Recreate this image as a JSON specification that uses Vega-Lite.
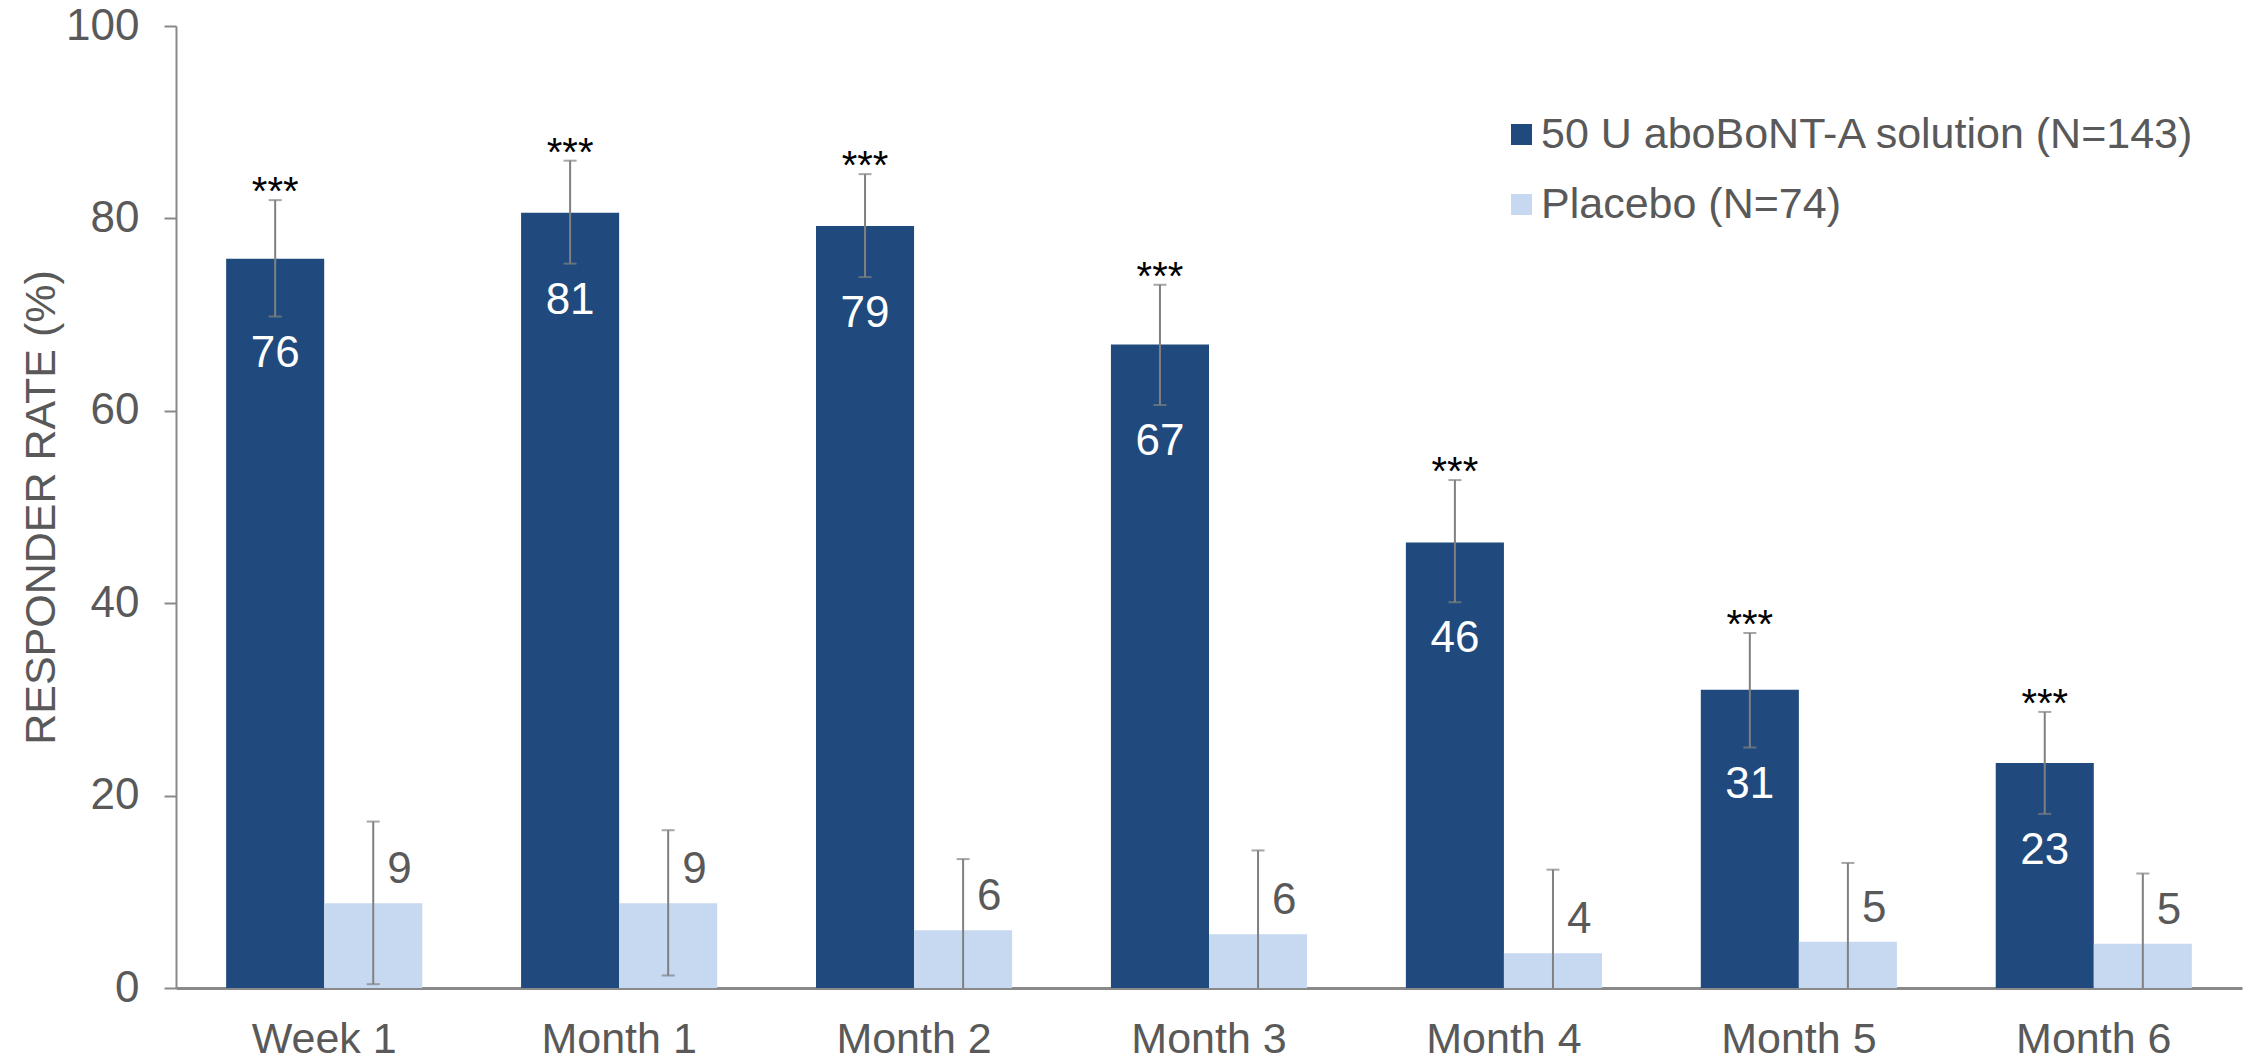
{
  "$schema": "https://vega.github.io/schema/vega-lite/v6.json",
  "width": 2066,
  "height": 962,
  "autosize": {"type": "none"},
  "padding": {"left": 176, "top": 26, "right": 8, "bottom": 73},
  "background": "white",
  "config": {"font": "Liberation Sans", "view": {"stroke": null}},
  "data": {
    "values": [
      {"timepoint": "Week 1", "group": "50 U aboBoNT-A solution (N=143)", "value": 75.8, "lower": 69.8, "upper": 81.9},
      {"timepoint": "Week 1", "group": "Placebo (N=74)", "value": 8.8, "lower": 0.4, "upper": 17.3},
      {"timepoint": "Month 1", "group": "50 U aboBoNT-A solution (N=143)", "value": 80.6, "lower": 75.3, "upper": 86.0},
      {"timepoint": "Month 1", "group": "Placebo (N=74)", "value": 8.8, "lower": 1.3, "upper": 16.4},
      {"timepoint": "Month 2", "group": "50 U aboBoNT-A solution (N=143)", "value": 79.2, "lower": 73.9, "upper": 84.6},
      {"timepoint": "Month 2", "group": "Placebo (N=74)", "value": 6.0, "lower": 0, "upper": 13.4},
      {"timepoint": "Month 3", "group": "50 U aboBoNT-A solution (N=143)", "value": 66.9, "lower": 60.6, "upper": 73.1},
      {"timepoint": "Month 3", "group": "Placebo (N=74)", "value": 5.6, "lower": 0, "upper": 14.3},
      {"timepoint": "Month 4", "group": "50 U aboBoNT-A solution (N=143)", "value": 46.3, "lower": 40.1, "upper": 52.8},
      {"timepoint": "Month 4", "group": "Placebo (N=74)", "value": 3.6, "lower": 0, "upper": 12.3},
      {"timepoint": "Month 5", "group": "50 U aboBoNT-A solution (N=143)", "value": 31.0, "lower": 25.0, "upper": 36.9},
      {"timepoint": "Month 5", "group": "Placebo (N=74)", "value": 4.8, "lower": 0, "upper": 13.0},
      {"timepoint": "Month 6", "group": "50 U aboBoNT-A solution (N=143)", "value": 23.4, "lower": 18.1, "upper": 28.7},
      {"timepoint": "Month 6", "group": "Placebo (N=74)", "value": 4.6, "lower": 0, "upper": 11.9}
    ]
  },
  "encoding": {
    "x": {
      "field": "timepoint",
      "type": "nominal",
      "sort": ["Week 1", "Month 1", "Month 2", "Month 3", "Month 4", "Month 5", "Month 6"],
      "scale": {"paddingInner": 0.335, "paddingOuter": 0.17},
      "axis": {
        "title": null,
        "labelAngle": 0,
        "labelFontSize": 43,
        "labelColor": "#595959",
        "ticks": false,
        "tickSize": 0,
        "labelPadding": 30,
        "domainColor": "#898989",
        "domainWidth": 3
      }
    },
    "xOffset": {
      "field": "group",
      "type": "nominal",
      "sort": ["50 U aboBoNT-A solution (N=143)", "Placebo (N=74)"],
      "scale": {"paddingInner": 0, "paddingOuter": 0}
    }
  },
  "layer": [
    {
      "mark": {"type": "bar"},
      "encoding": {
        "y": {
          "field": "value",
          "type": "quantitative",
          "scale": {"domain": [0, 100], "nice": false},
          "axis": {
            "values": [0, 20, 40, 60, 80, 100],
            "grid": false,
            "title": "RESPONDER RATE (%)",
            "titleFontSize": 43,
            "titleFontWeight": "normal",
            "titleColor": "#595959",
            "titlePadding": 2,
            "labelFontSize": 44,
            "labelColor": "#595959",
            "labelPadding": 25,
            "tickSize": 12,
            "tickColor": "#898989",
            "tickWidth": 2,
            "domainColor": "#898989",
            "domainWidth": 2
          }
        },
        "color": {
          "field": "group",
          "type": "nominal",
          "scale": {
            "domain": ["50 U aboBoNT-A solution (N=143)", "Placebo (N=74)"],
            "range": ["#204A7D", "#C6D9F1"]
          },
          "legend": {
            "title": null,
            "orient": "none",
            "legendX": 1324,
            "legendY": 87,
            "symbolType": "square",
            "symbolSize": 441,
            "symbolStrokeWidth": 0,
            "symbolOpacity": 1,
            "labelFontSize": 43,
            "labelColor": "#595959",
            "labelOffset": -2,
            "rowPadding": 26,
            "labelLimit": 1000
          }
        }
      }
    },
    {
      "mark": {"type": "rule", "color": "#808080", "strokeWidth": 2},
      "encoding": {
        "y": {"field": "lower", "type": "quantitative"},
        "y2": {"field": "upper"}
      }
    },
    {
      "mark": {"type": "tick", "color": "#808080", "size": 13, "thickness": 2, "orient": "horizontal"},
      "encoding": {"y": {"field": "upper", "type": "quantitative"}}
    },
    {
      "transform": [{"filter": "datum.lower > 0"}],
      "mark": {"type": "tick", "color": "#808080", "size": 13, "thickness": 2, "orient": "horizontal"},
      "encoding": {"y": {"field": "lower", "type": "quantitative"}}
    },
    {
      "transform": [{"filter": "datum.group == '50 U aboBoNT-A solution (N=143)'"}],
      "mark": {"type": "text", "color": "white", "fontSize": 44, "baseline": "alphabetic", "align": "center", "dy": 50},
      "encoding": {
        "y": {"field": "lower", "type": "quantitative"},
        "text": {"field": "value", "type": "quantitative", "format": ".0f"}
      }
    },
    {
      "transform": [{"filter": "datum.group == 'Placebo (N=74)'"}],
      "mark": {"type": "text", "color": "#595959", "fontSize": 44, "baseline": "alphabetic", "align": "left", "dx": 14, "dy": -20},
      "encoding": {
        "y": {"field": "value", "type": "quantitative"},
        "text": {"field": "value", "type": "quantitative", "format": ".0f"}
      }
    },
    {
      "transform": [{"filter": "datum.group == '50 U aboBoNT-A solution (N=143)'"}],
      "mark": {"type": "text", "color": "black", "fontSize": 40, "baseline": "alphabetic", "align": "center", "dy": 5},
      "encoding": {
        "y": {"field": "upper", "type": "quantitative"},
        "text": {"value": "***"}
      }
    }
  ]
}
